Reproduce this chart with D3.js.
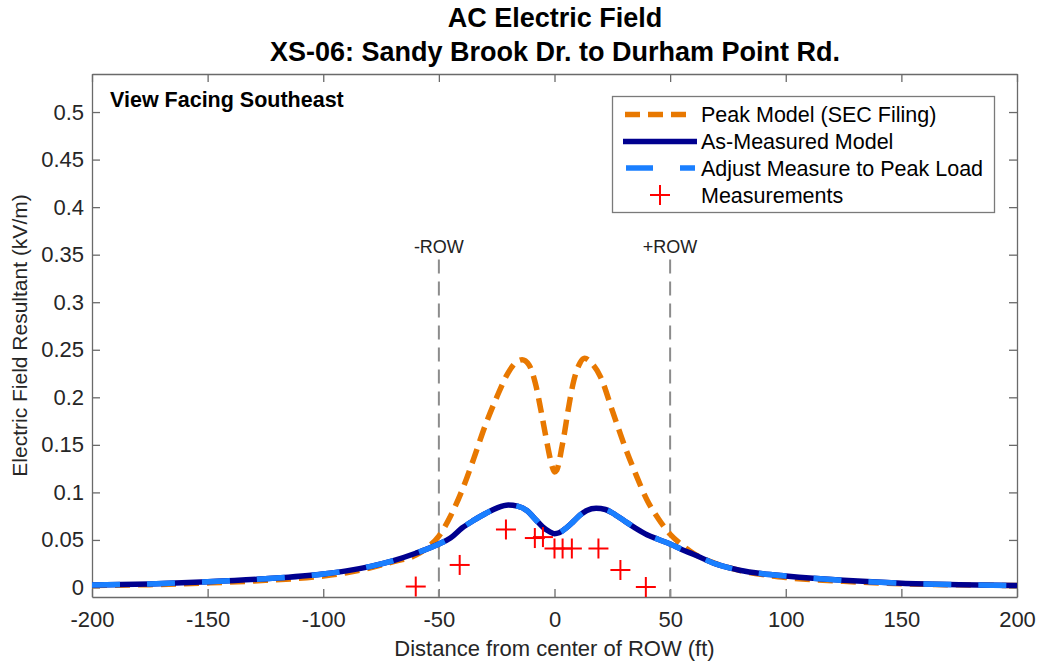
<!DOCTYPE html>
<html>
<head>
<meta charset="utf-8">
<script src="https://cdn.jsdelivr.net/npm/d3@7"></script>
<style>
  body { margin: 0; background: #fff; }
  svg { display: block; font-family: "Liberation Sans", Arial, Helvetica, sans-serif; }
</style>
</head>
<body>
<svg id="chart" width="1044" height="664"></svg>
<script>
// ---------- data ----------
const titleLines = ["AC Electric Field", "XS-06: Sandy Brook Dr. to Durham Point Rd."];
const xTicks = [-200, -150, -100, -50, 0, 50, 100, 150, 200];
const xTickLabels = ["-200", "-150", "-100", "-50", "0", "50", "100", "150", "200"];
const yTicks = [0, 0.05, 0.1, 0.15, 0.2, 0.25, 0.3, 0.35, 0.4, 0.45, 0.5];
const yTickLabels = ["0", "0.05", "0.1", "0.15", "0.2", "0.25", "0.3", "0.35", "0.4", "0.45", "0.5"];

// Peak Model (SEC Filing)
const peakX = [-200,-175,-150,-125,-100,-90,-80,-70,-60,-55,-50,-45,-40,-35,-30,-25,-20,-17,-14,-11,-8,-6,-4,-3,-2,-1,0,1,2,3,4,6,8,11,13,16,20,25,30,35,40,45,50,55,60,70,80,90,100,125,150,175,200];
const peakY = [0.0022,0.003,0.0048,0.0075,0.012,0.0155,0.0205,0.027,0.034,0.042,0.054,0.075,0.102,0.135,0.17,0.2,0.226,0.236,0.2395,0.234,0.212,0.188,0.162,0.149,0.137,0.127,0.1215,0.1235,0.132,0.145,0.158,0.188,0.214,0.236,0.241,0.236,0.221,0.186,0.151,0.12,0.092,0.072,0.056,0.045,0.036,0.025,0.018,0.0135,0.0105,0.0065,0.004,0.0028,0.002];

// As-Measured Model
const measX = [-200,-175,-150,-125,-100,-90,-80,-70,-60,-50,-45,-40,-35,-30,-25,-20,-16,-12,-8,-5,-2,0,2,5,8,11,14,18,22,26,30,35,40,45,50,55,60,70,80,90,100,125,150,175,200];
const measY = [0.0026,0.0038,0.006,0.0092,0.0142,0.0175,0.022,0.028,0.036,0.0457,0.052,0.0625,0.0705,0.0775,0.0835,0.0868,0.0855,0.081,0.071,0.0635,0.0585,0.0565,0.0575,0.0625,0.069,0.076,0.081,0.0833,0.082,0.077,0.0705,0.0625,0.0555,0.0505,0.0457,0.040,0.035,0.0245,0.0182,0.0145,0.0121,0.0075,0.0045,0.0030,0.0020];

// Adjust Measure to Peak Load (coincides with As-Measured in the picture)
const adjX = [-200,-175,-150,-125,-100,-90,-80,-70,-60,-50,-45,-40,-35,-30,-25,-20,-16,-12,-8,-5,-2,0,2,5,8,11,14,18,22,26,30,35,40,45,50,55,60,70,80,90,100,125,150,175,200];
const adjY = [0.0026,0.0038,0.006,0.0092,0.0142,0.0175,0.022,0.028,0.036,0.0457,0.052,0.0625,0.0705,0.0775,0.0835,0.0868,0.0855,0.081,0.071,0.0635,0.0585,0.0565,0.0575,0.0625,0.069,0.076,0.081,0.0833,0.082,0.077,0.0705,0.0625,0.0555,0.0505,0.0457,0.040,0.035,0.0245,0.0182,0.0145,0.0121,0.0075,0.0045,0.0030,0.0020];

// Measurements
const ptX = [-60, -41, -21, -8.5, -5, 0, 3.5, 7.5, 19, 28.5, 39.5];
const ptY = [0.001, 0.0237, 0.061, 0.052, 0.053, 0.041, 0.041, 0.041, 0.041, 0.0184, 0.0005];

// ROW boundaries
const rowX = [-50, 50];
const rowLabels = ["-ROW", "+ROW"];
const rowLineTop = 0.345;
const rowLabelY = 0.359;

const legendLabels = ["Peak Model (SEC Filing)", "As-Measured Model", "Adjust Measure to Peak Load", "Measurements"];

// ---------- layout ----------
const svg = d3.select("#chart");
const L = 92, R = 1017, T = 74, B = 597;
const x = d3.scaleLinear().domain([-200, 200]).range([L, R]);
const y = d3.scaleLinear().domain([-0.01, 0.54]).range([B, T]);

const textColor = "#262626";
const axisColor = "#6a6a6a";
const cOrange = "#E87800";
const cNavy = "#00008F";
const cLight = "#1A7FFF";
const cRed = "#FF0000";

// Title
svg.append("text").attr("x", 555).attr("y", 27).attr("text-anchor", "middle")
  .attr("font-size", 27).attr("font-weight", "bold").attr("fill", "#000").text(titleLines[0]);
svg.append("text").attr("x", 555).attr("y", 61).attr("text-anchor", "middle")
  .attr("font-size", 27).attr("font-weight", "bold").attr("fill", "#000").text(titleLines[1]);

// Axes
const fmtX = (d) => xTickLabels[xTicks.indexOf(d)];
const fmtY = (d) => yTickLabels[yTicks.indexOf(d)];

const gB = svg.append("g").attr("transform", `translate(0,${B})`)
  .call(d3.axisBottom(x).tickValues(xTicks).tickFormat(fmtX).tickSizeInner(-8).tickSizeOuter(0).tickPadding(14));
const gL = svg.append("g").attr("transform", `translate(${L},0)`)
  .call(d3.axisLeft(y).tickValues(yTicks).tickFormat(fmtY).tickSizeInner(-8).tickSizeOuter(0).tickPadding(8));
const gT = svg.append("g").attr("transform", `translate(0,${T})`)
  .call(d3.axisTop(x).tickValues(xTicks).tickFormat("").tickSizeInner(-8).tickSizeOuter(0));
const gR = svg.append("g").attr("transform", `translate(${R},0)`)
  .call(d3.axisRight(y).tickValues(yTicks).tickFormat("").tickSizeInner(-8).tickSizeOuter(0));

[gB, gL, gT, gR].forEach(g => {
  g.select(".domain").attr("stroke", axisColor).attr("stroke-width", 1.3);
  g.selectAll(".tick line").attr("stroke", axisColor).attr("stroke-width", 1.3);
  g.selectAll(".tick text").attr("fill", textColor).attr("font-size", 22)
    .attr("font-family", "Liberation Sans, Arial, sans-serif");
});

// Axis labels
svg.append("text").attr("x", (L + R) / 2).attr("y", 656).attr("text-anchor", "middle")
  .attr("font-size", 22).attr("fill", textColor).text("Distance from center of ROW (ft)");
svg.append("text").attr("transform", `translate(27,${(T + B) / 2}) rotate(-90)`).attr("text-anchor", "middle")
  .attr("font-size", 21).attr("fill", textColor).text("Electric Field Resultant (kV/m)");

// ROW lines
rowX.forEach((rx, i) => {
  svg.append("line").attr("x1", x(rx)).attr("x2", x(rx)).attr("y1", y(rowLineTop)).attr("y2", B)
    .attr("stroke", "#8c8c8c").attr("stroke-width", 2).attr("stroke-dasharray", "14,8");
  svg.append("text").attr("x", x(rx)).attr("y", y(rowLabelY)).attr("dy", "0.36em")
    .attr("text-anchor", "middle").attr("font-size", 18).attr("fill", "#222").text(rowLabels[i]);
});

// Lines
const mk = (xs, ys) => xs.map((v, i) => [v, ys[i]]);
const line = d3.line().x(d => x(d[0])).y(d => y(d[1])).curve(d3.curveMonotoneX);

svg.append("path").attr("d", line(mk(peakX, peakY))).attr("fill", "none")
  .attr("stroke", cOrange).attr("stroke-width", 5.5).attr("stroke-dasharray", "15,8");
svg.append("path").attr("d", line(mk(measX, measY))).attr("fill", "none")
  .attr("stroke", cNavy).attr("stroke-width", 5.5);
svg.append("path").attr("d", line(mk(adjX, adjY))).attr("fill", "none")
  .attr("stroke", cLight).attr("stroke-width", 5.5).attr("stroke-dasharray", "28,27");

// Measurements markers
const plus = (g, cx, cy) => {
  g.append("line").attr("x1", cx - 10).attr("x2", cx + 10).attr("y1", cy).attr("y2", cy)
    .attr("stroke", cRed).attr("stroke-width", 2);
  g.append("line").attr("x1", cx).attr("x2", cx).attr("y1", cy - 10).attr("y2", cy + 10)
    .attr("stroke", cRed).attr("stroke-width", 2);
};
const gPts = svg.append("g");
ptX.forEach((px, i) => plus(gPts, x(px), y(ptY[i])));

// View label
svg.append("text").attr("x", 110).attr("y", 107).attr("font-size", 21.5).attr("font-weight", "bold")
  .attr("fill", "#000").text("View Facing Southeast");

// Legend
const lg = svg.append("g");
lg.append("rect").attr("x", 612.5).attr("y", 96.5).attr("width", 382).attr("height", 116)
  .attr("fill", "#fff").attr("stroke", "#7a7a7a").attr("stroke-width", 1.3);
const rowsY = [114.5, 141.5, 168, 195];
lg.append("line").attr("x1", 625).attr("x2", 694).attr("y1", rowsY[0]).attr("y2", rowsY[0])
  .attr("stroke", cOrange).attr("stroke-width", 5.5).attr("stroke-dasharray", "15,8");
lg.append("line").attr("x1", 623).attr("x2", 697).attr("y1", rowsY[1]).attr("y2", rowsY[1])
  .attr("stroke", cNavy).attr("stroke-width", 5.5);
lg.append("line").attr("x1", 626).attr("x2", 695).attr("y1", rowsY[2]).attr("y2", rowsY[2])
  .attr("stroke", cLight).attr("stroke-width", 5.5).attr("stroke-dasharray", "27,27");
plus(lg, 660, rowsY[3]);
legendLabels.forEach((t, i) => {
  lg.append("text").attr("x", 701).attr("y", rowsY[i]).attr("dy", "0.36em")
    .attr("font-size", 21.5).attr("fill", "#000").text(t);
});
</script>
</body>
</html>
